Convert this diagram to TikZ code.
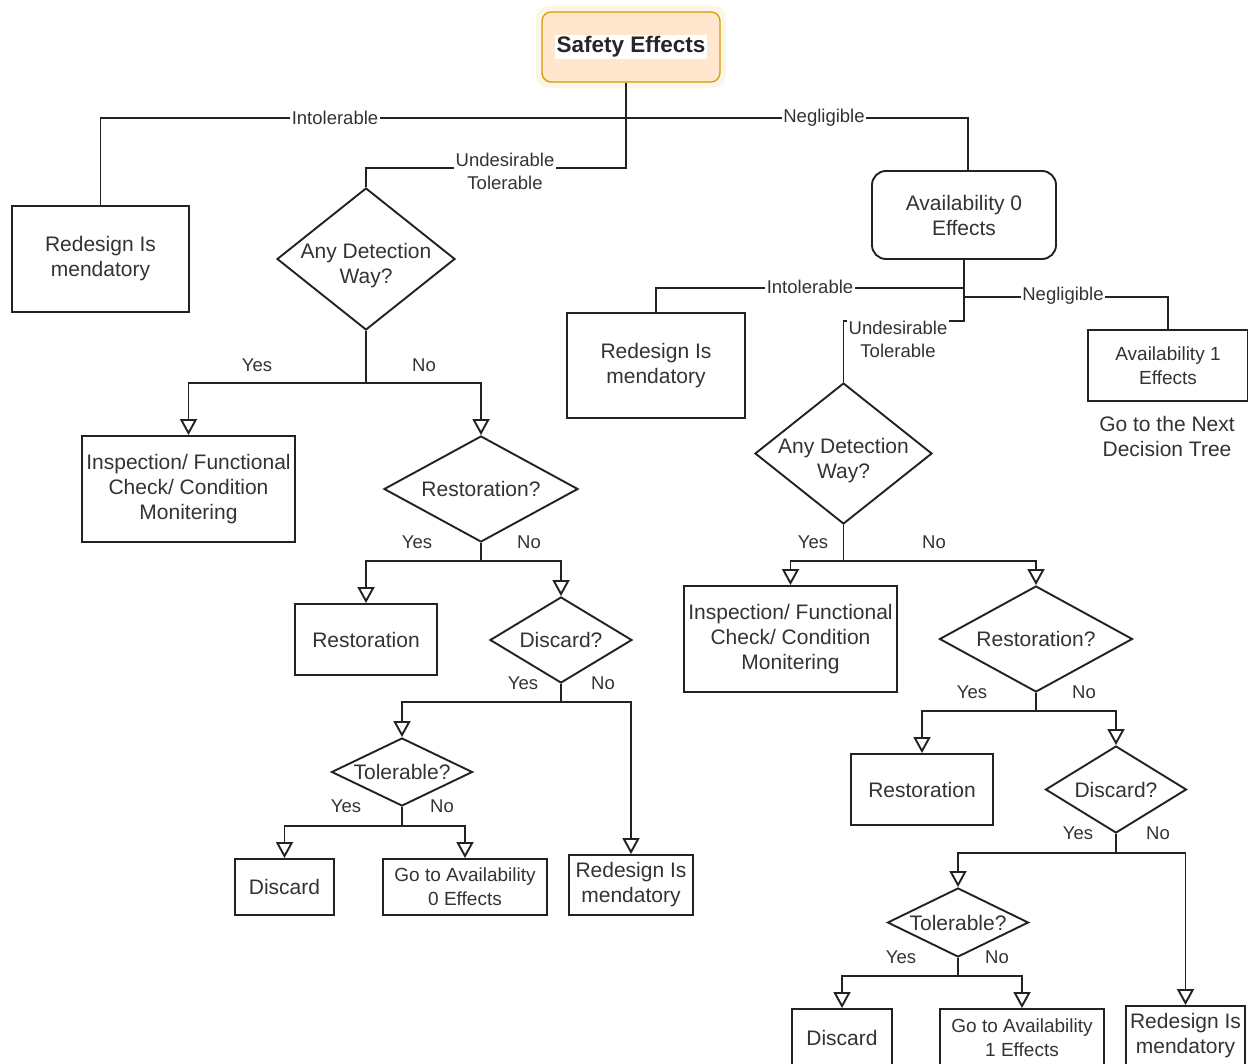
\documentclass[tikz,border=0pt]{standalone}
\usepackage{fontspec}
\setmainfont{Liberation Sans}
\usetikzlibrary{shapes.geometric,arrows.meta}
\definecolor{ink}{HTML}{222222}
\definecolor{txt}{HTML}{333333}
\definecolor{safefill}{HTML}{FFE6CC}
\definecolor{safedraw}{HTML}{D79B00}

\begin{document}
\begin{tikzpicture}[x=1pt,y=-1pt,
  box/.style={draw=ink, line width=1.9pt, rectangle, inner sep=0pt, align=center,
    text=txt, font=\fontsize{21}{25}\selectfont},
  smallbox/.style={box, font=\fontsize{19}{24}\selectfont},
  dia/.style={draw=ink, line width=1.9pt, diamond, inner sep=0pt},
  qtxt/.style={text=txt, align=center, font=\fontsize{21}{25}\selectfont, inner sep=0pt},
  elab/.style={fill=white, text=txt, align=center, font=\fontsize{18.5}{23}\selectfont, inner sep=1.5pt},
  yn/.style={text=txt, font=\fontsize{18.5}{22}\selectfont, inner sep=0pt},
  link/.style={draw=ink, line width=1.9pt},
  arr/.style={link, -{Triangle[fill=white, length=16pt, width=17pt]}}
]
\clip (0,0) rectangle (1248,1064);
\fill[white] (0,0) rectangle (1248,1064);

% ---------- root ----------
\fill[safedraw!25, opacity=0.35, rounded corners=12pt] (536,6) rectangle (726,88);
\node[draw=safedraw, fill=safefill, rounded corners=9pt, line width=1.3pt,
  minimum width=178pt, minimum height=70pt, inner sep=0pt,
  label={[fill=white, text=black!85, inner sep=2pt, font=\fontsize{22.5}{26}\selectfont\bfseries]center:Safety Effects}]
  (safety) at (631,47) {};

% ---------- left branch: first decision tree ----------
\node[box, minimum width=177pt, minimum height=106pt] (red1) at (100.5,259) {Redesign Is\\mendatory};

\node[dia, minimum width=178pt, minimum height=142pt] (q1) at (366,259) {};
\node[qtxt] (q1t) at (366,266) {Any Detection\\Way?};

\node[box, minimum width=213pt, minimum height=106pt] (ins1) at (188.5,489) {Inspection/ Functional\\Check/ Condition\\Monitering};

\node[dia, minimum width=194pt, minimum height=106pt] (q2) at (481,489) {};
\node[qtxt] (q2t) at (q2) {Restoration?};

\node[box, minimum width=142pt, minimum height=71pt] (rest1) at (366,639.5) {Restoration};

\node[dia, minimum width=142pt, minimum height=86pt] (q3) at (561,640) {};
\node[qtxt] (q3t) at (q3) {Discard?};

\node[dia, minimum width=141pt, minimum height=68pt] (q4) at (402,772) {};
\node[qtxt] (q4t) at (q4) {Tolerable?};

\node[box, minimum width=99pt, minimum height=56pt] (disc1) at (284.5,887) {Discard};
\node[smallbox, minimum width=164pt, minimum height=56pt] (goav0) at (465,887) {Go to Availability\\0 Effects};
\node[box, minimum width=124pt, minimum height=60pt] (red3) at (631,885) {Redesign Is\\mendatory};

% ---------- right branch: availability tree ----------
\node[box, rounded corners=14pt, minimum width=184pt, minimum height=88pt] (av0) at (964,215) {Availability 0\\Effects};
\node[box, minimum width=178pt, minimum height=105pt] (red2) at (656,365.5) {Redesign Is\\mendatory};
\node[smallbox, minimum width=160pt, minimum height=71pt] (av1) at (1168,365.5) {Availability 1\\Effects};
\node[qtxt] (next) at (1167,436) {Go to the Next\\Decision Tree};

\node[dia, minimum width=177pt, minimum height=141pt] (r1) at (843.5,453.5) {};
\node[qtxt] (r1t) at (843.5,461) {Any Detection\\Way?};

\node[box, minimum width=213pt, minimum height=106pt] (ins2) at (790.5,639) {Inspection/ Functional\\Check/ Condition\\Monitering};

\node[dia, minimum width=193pt, minimum height=106pt] (r2) at (1036,639) {};
\node[qtxt] (r2t) at (r2) {Restoration?};

\node[box, minimum width=142pt, minimum height=71pt] (rest2) at (922,789.5) {Restoration};

\node[dia, minimum width=141pt, minimum height=87pt] (r3) at (1116,789.5) {};
\node[qtxt] (r3t) at (r3) {Discard?};

\node[dia, minimum width=141pt, minimum height=69pt] (r4) at (958,922.5) {};
\node[qtxt] (r4t) at (r4) {Tolerable?};

\node[box, minimum width=100pt, minimum height=58pt] (disc2) at (842,1038) {Discard};
\node[smallbox, minimum width=164pt, minimum height=58pt] (goav1) at (1022,1038) {Go to Availability\\1 Effects};
\node[box, minimum width=119pt, minimum height=60pt] (red4) at (1185.5,1036) {Redesign Is\\mendatory};

% ---------- root connectors ----------
\coordinate (sb) at (626,118);
\coordinate (nb) at (968,118);
\draw[link, line width=2.6pt] (safety.south -| sb) -- (sb);
\draw[link] (sb) -| (red1.north);
\draw[link] (sb) -- (nb) -- (av0.north -| nb);
\draw[link] (sb) -- ++(0,50) -| (q1.north);
\node[elab] (l-int1) at (335,118) {Intolerable};
\node[elab] (l-neg1) at (824,118) {Negligible};
\node[elab] (l-und1) at (505,171) {Undesirable\\Tolerable};

% ---------- availability connectors ----------
\draw[link] (av0.south) -- ++(0,28) coordinate (ab) -| (red2.north);
\draw[link] (ab) -- ++(0,33) -| (r1.north);
\draw[link] (ab) ++(0,9) -| (av1.north);
\node[elab] (l-int2) at (810,287) {Intolerable};
\node[elab] (l-neg2) at (1063,296) {Negligible};
\node[elab] (l-und2) at (898,339) {Undesirable\\Tolerable};

% ---------- yes / no splits, left ----------
\draw[link] (q1.south) -- ++(0,52) coordinate (q1b);
\draw[arr] (q1b) -| (ins1.north);
\draw[arr] (q1b) -| (q2.north);
\node[yn] (q1y) at (257,365) {Yes};
\node[yn] (q1n) at (424,365) {No};

\draw[link] (q2.south) -- ++(0,18) coordinate (q2b);
\draw[arr] (q2b) -| (rest1.north);
\draw[arr] (q2b) -| (q3.north);
\node[yn] (q2y) at (417,542) {Yes};
\node[yn] (q2n) at (529,542) {No};

\draw[link] (q3.south) -- ++(0,18) coordinate (q3b);
\draw[arr] (q3b) -| (q4.north);
\draw[arr] (q3b) -| (red3.north);
\node[yn] (q3y) at (523,683) {Yes};
\node[yn] (q3n) at (603,683) {No};

\draw[link] (q4.south) -- ++(0,19) coordinate (q4b);
\draw[arr] (q4b) -| (disc1.north);
\draw[arr] (q4b) -| (goav0.north);
\node[yn] (q4y) at (346,806) {Yes};
\node[yn] (q4n) at (442,806) {No};

% ---------- yes / no splits, right ----------
\draw[link] (r1.south) -- ++(0,36) coordinate (r1b);
\draw[arr] (r1b) -| (ins2.north);
\draw[arr] (r1b) -| (r2.north);
\node[yn] (r1y) at (813,542) {Yes};
\node[yn] (r1n) at (934,542) {No};

\draw[link] (r2.south) -- ++(0,18) coordinate (r2b);
\draw[arr] (r2b) -| (rest2.north);
\draw[arr] (r2b) -| (r3.north);
\node[yn] (r2y) at (972,692) {Yes};
\node[yn] (r2n) at (1084,692) {No};

\draw[link] (r3.south) -- ++(0,19) coordinate (r3b);
\draw[arr] (r3b) -| (r4.north);
\draw[arr] (r3b) -| (red4.north);
\node[yn] (r3y) at (1078,833) {Yes};
\node[yn] (r3n) at (1158,833) {No};

\draw[link] (r4.south) -- ++(0,18) coordinate (r4b);
\draw[arr] (r4b) -| (disc2.north);
\draw[arr] (r4b) -| (goav1.north);
\node[yn] (r4y) at (901,957) {Yes};
\node[yn] (r4n) at (997,957) {No};
\end{tikzpicture}
\end{document}
